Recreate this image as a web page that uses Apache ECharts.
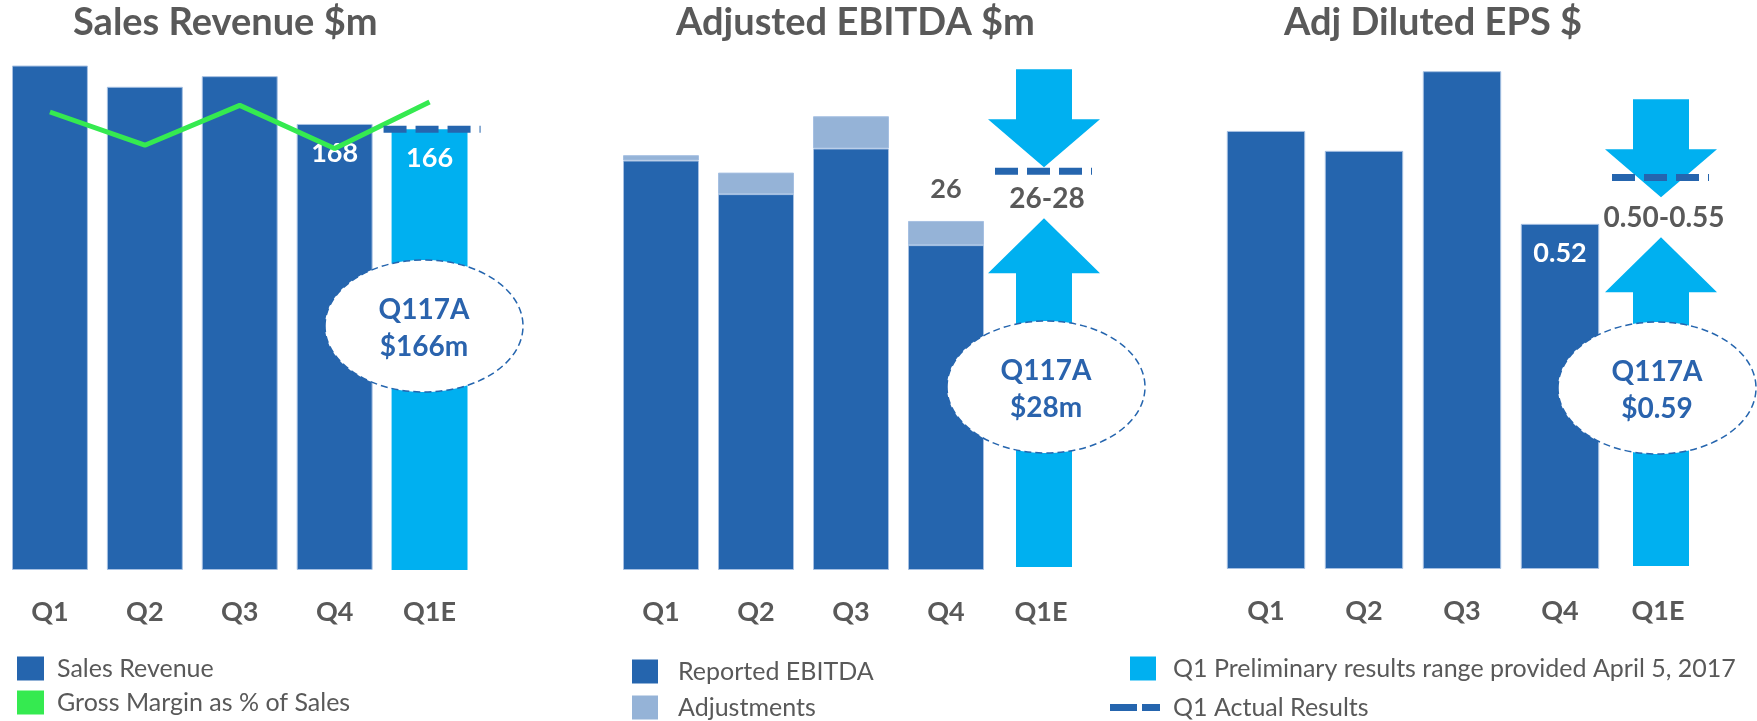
<!DOCTYPE html>
<html>
<head>
<meta charset="utf-8">
<script src="https://cdn.jsdelivr.net/npm/echarts@6/dist/echarts.min.js"></script>
<style>
html,body{margin:0;padding:0;background:#fff;}
#main{width:1757px;height:721px;}
</style>
</head>
<body>
<div id="main"></div>
<script>
var quarters = ['Q1', 'Q2', 'Q3', 'Q4', 'Q1E'];

// Sales Revenue $m
var salesRevenue = [190, 182, 186, 168, 166];
var grossMargin = [43.8, 42.8, 44.0, 42.7, 44.1];   // %
var salesActual = 166;

// Adjusted EBITDA $m
var reportedEbitda = [30.5, 28.0, 31.4, 24.2];
var ebitdaAdjustments = [0.4, 1.6, 2.4, 1.8];
var ebitdaRange = [26, 28];
var ebitdaArrowTips = [26.2, 30.0];   // as drawn on the slide
var ebitdaActualMark = 29.7;
var ebitdaActual = 28;

// Adj Diluted EPS $
var eps = [0.66, 0.63, 0.75, 0.52];
var epsRange = [0.50, 0.55];
var epsArrowTips = [0.50, 0.56];
var epsActual = 0.59;

var DARK = '#2565ae', LIGHT = '#00b0f0', ADJ = '#95b3d7', GREEN = '#35ea50', GREY = '#595959';
var FONT = 'Lato, "Open Sans", sans-serif';
var PRELIM = 'Q1 Preliminary results range provided April 5, 2017';
var ACTUAL = 'Q1 Actual Results';

var chart = echarts.init(document.getElementById('main'));

function barBorder(color) {
    return {color: color, borderColor: '#a6c0e2', borderWidth: 1};
}

/* arrows pointing at the preliminary range */
function arrowSeries(xi, yi, tips, rangeText) {
    return {
        name: PRELIM,
        type: 'custom',
        xAxisIndex: xi,
        yAxisIndex: yi,
        z: 5,
        itemStyle: {color: LIGHT},
        encode: {x: 0, y: [1, 2]},
        data: [[4, tips[0], tips[1]]],
        renderItem: function (params, api) {
            var lo = api.coord([api.value(0), api.value(1)]);
            var hi = api.coord([api.value(0), api.value(2)]);
            var base = api.coord([api.value(0), 0]);
            var cx = lo[0] + 3, sw = 28, hw = 56;
            var hy = hi[1] - 48;
            var ly = lo[1] + 55;
            var down = [[cx - sw, hy - 50], [cx + sw, hy - 50], [cx + sw, hy], [cx + hw, hy],
                [cx, hi[1]], [cx - hw, hy], [cx - sw, hy]];
            var up = [[cx, lo[1]], [cx + hw, ly], [cx + sw, ly], [cx + sw, base[1] - 3],
                [cx - sw, base[1] - 3], [cx - sw, ly], [cx - hw, ly]];
            return {
                type: 'group',
                children: [
                    {type: 'polygon', shape: {points: down}, style: {fill: LIGHT}},
                    {type: 'polygon', shape: {points: up}, style: {fill: LIGHT}},
                    {type: 'text', x: cx + 3, y: lo[1] - 19, z2: 10,
                        style: {text: rangeText, fill: GREY, fontSize: 28, fontWeight: 'bold', fontFamily: FONT,
                            align: 'center', verticalAlign: 'middle'}}
                ]
            };
        }
    };
}

/* dashed marker for Q1 actual */
function actualSeries(xi, yi, val) {
    return {
        name: ACTUAL,
        type: 'custom',
        xAxisIndex: xi,
        yAxisIndex: yi,
        z: 6,
        itemStyle: {color: DARK},
        encode: {x: 0, y: 1},
        data: [[4, val]],
        renderItem: function (params, api) {
            var p = api.coord([api.value(0), api.value(1)]);
            return {
                type: 'line',
                shape: {x1: p[0] - 46, y1: p[1], x2: p[0] + 51, y2: p[1]},
                style: {stroke: DARK, lineWidth: 7, lineDash: [23, 9]}
            };
        }
    };
}

function callout(cx, cy, lines) {
    var t = {fill: '#2a63ad', fontSize: 28, fontWeight: 'bold', fontFamily: FONT, align: 'center', verticalAlign: 'middle'};
    return {
        type: 'group', z: 100,
        children: [
            {type: 'ellipse', z: 100, shape: {cx: cx, cy: cy, rx: 99, ry: 66},
                style: {fill: '#fff', stroke: DARK, lineWidth: 1.5, lineDash: [7, 4]}},
            {type: 'text', z: 101, x: cx, y: cy - 16, style: Object.assign({text: lines[0]}, t)},
            {type: 'text', z: 101, x: cx, y: cy + 21, style: Object.assign({text: lines[1]}, t)}
        ]
    };
}

function xAxis(gi) {
    return {
        type: 'category', gridIndex: gi, data: quarters,
        axisLine: {show: false}, axisTick: {show: false}, splitLine: {show: false},
        axisLabel: {color: GREY, fontSize: 27, fontWeight: 'bold', fontFamily: FONT, margin: 29}
    };
}

var titleStyle = {color: GREY, fontSize: 38, fontWeight: 'bold', fontFamily: FONT};
var legendText = {color: GREY, fontSize: 25, fontFamily: FONT};

var option = {
    animation: false,
    backgroundColor: '#fff',
    title: [
        {text: 'Sales Revenue $m', left: 73, top: 4, padding: 0, textStyle: titleStyle},
        {text: 'Adjusted EBITDA $m', left: 676, top: 4, padding: 0, textStyle: titleStyle},
        {text: 'Adj Diluted EPS $', left: 1284, top: 4, padding: 0, textStyle: titleStyle}
    ],
    legend: [
        {left: 17, top: 656, orient: 'vertical', padding: 0, itemWidth: 27, itemHeight: 24, itemGap: 9,
            selectedMode: false, itemStyle: {borderWidth: 0},
            textStyle: Object.assign({padding: [0, 0, 0, 8]}, legendText),
            data: [{name: 'Sales Revenue', icon: 'rect'}, {name: 'Gross Margin as % of Sales', icon: 'rect'}]},
        {left: 632, top: 659, orient: 'vertical', padding: 0, itemWidth: 26, itemHeight: 24, itemGap: 11,
            selectedMode: false, itemStyle: {borderWidth: 0},
            textStyle: Object.assign({padding: [0, 0, 0, 15]}, legendText),
            data: [{name: 'Reported EBITDA', icon: 'rect'}, {name: 'Adjustments', icon: 'rect'}]},
        {left: 1130, top: 656, padding: 0, itemWidth: 26, itemHeight: 24,
            selectedMode: false, itemStyle: {borderWidth: 0},
            textStyle: Object.assign({padding: [0, 0, 0, 12]}, legendText),
            data: [{name: PRELIM, icon: 'rect'}]},
        {left: 1110, top: 695, padding: 0, itemWidth: 50, itemHeight: 7,
            selectedMode: false, itemStyle: {borderWidth: 0},
            textStyle: Object.assign({padding: [0, 0, 0, 8]}, legendText),
            data: [{name: ACTUAL, icon: 'path://M0,0H27V7H0Z M32,0H50V7H32Z'}]}
    ],
    grid: [
        {left: 2.5, width: 474.5, top: 39, bottom: 151},
        {left: 613.5, width: 475, top: 33, bottom: 151},
        {left: 1217, width: 490, top: 38, bottom: 152}
    ],
    xAxis: [xAxis(0), xAxis(1), xAxis(2)],
    yAxis: [
        {type: 'value', gridIndex: 0, min: 0, max: 200, show: false},
        {type: 'value', gridIndex: 0, min: 30, max: 46, show: false},
        {type: 'value', gridIndex: 1, min: 0, max: 40, show: false},
        {type: 'value', gridIndex: 2, min: 0, max: 0.8, show: false}
    ],
    series: [
        {
            name: 'Sales Revenue', type: 'bar', xAxisIndex: 0, yAxisIndex: 0, barWidth: '80%',
            itemStyle: barBorder(DARK),
            label: {show: false, position: 'insideTop', distance: 16, color: '#fff', fontSize: 27,
                fontWeight: 'bold', fontFamily: FONT},
            data: salesRevenue.map(function (v, i) {
                var d = {value: v};
                if (i >= 3) d.label = {show: true};
                if (i === 4) d.itemStyle = {color: LIGHT, borderWidth: 0};
                return d;
            })
        },
        {
            name: 'Gross Margin as % of Sales', type: 'line', xAxisIndex: 0, yAxisIndex: 1, z: 4,
            symbol: 'none', lineStyle: {color: GREEN, width: 5}, itemStyle: {color: GREEN},
            data: grossMargin
        },
        actualSeries(0, 0, salesActual),
        {
            name: 'Reported EBITDA', type: 'bar', stack: 'ebitda', xAxisIndex: 1, yAxisIndex: 2, barWidth: '80%',
            itemStyle: barBorder(DARK), data: reportedEbitda
        },
        {
            name: 'Adjustments', type: 'bar', stack: 'ebitda', xAxisIndex: 1, yAxisIndex: 2, barWidth: '80%',
            itemStyle: barBorder(ADJ),
            label: {show: false, position: 'top', distance: 18, color: GREY, fontSize: 27, fontWeight: 'bold',
                fontFamily: FONT,
                formatter: function (p) { return Math.round(reportedEbitda[p.dataIndex] + p.value); }},
            data: ebitdaAdjustments.map(function (v, i) {
                return i === 3 ? {value: v, label: {show: true}} : v;
            })
        },
        arrowSeries(1, 2, ebitdaArrowTips, ebitdaRange.join('-')),
        actualSeries(1, 2, ebitdaActualMark),
        {
            name: 'Adj Diluted EPS', type: 'bar', xAxisIndex: 2, yAxisIndex: 3, barWidth: '80%',
            itemStyle: barBorder(DARK),
            label: {show: false, position: 'insideTop', distance: 16, color: '#fff', fontSize: 27,
                fontWeight: 'bold', fontFamily: FONT, formatter: function (p) { return p.value.toFixed(2); }},
            data: eps.map(function (v, i) {
                return i === 3 ? {value: v, label: {show: true}} : v;
            })
        },
        arrowSeries(2, 3, epsArrowTips, epsRange.map(function (v) { return v.toFixed(2); }).join('-')),
        actualSeries(2, 3, epsActual)
    ],
    graphic: [
        callout(424, 326, ['Q117A', '$' + salesActual + 'm']),
        callout(1046, 387, ['Q117A', '$' + ebitdaActual + 'm']),
        callout(1657, 388, ['Q117A', '$' + epsActual.toFixed(2)])
    ]
};

chart.setOption(option);
</script>
</body>
</html>
